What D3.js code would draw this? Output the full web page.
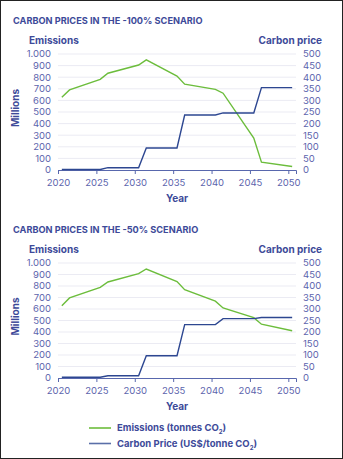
<!DOCTYPE html>
<html><head>
<meta charset="utf-8">
<script src="https://d3js.org/d3.v7.min.js"></script>
<style>
  body { margin: 0; background: #fff; }
  svg text { font-family: Inter, "Noto Sans", sans-serif; }
  .tittle { font-size: 9.2px; font-weight: 700; fill: #3d4a99; }
  .axis-name { font-size: 10px; font-weight: 700; fill: #3d4a99; }
  .tick-lab { font-size: 9.5px; fill: #5c64ad; }
  .legend-text { font-size: 9.5px; font-weight: 700; fill: #3d4a99; }
</style>
</head>
<body>
<svg width="343" height="459"></svg>
<script>
// years where the lines change direction
var years = [2020, 2021, 2025, 2026, 2030, 2031, 2035, 2036, 2040, 2041, 2045, 2046, 2050];

// -100% scenario
var emissions100 = [627, 690, 782, 834, 905, 950, 810, 740, 695, 662, 275, 68, 30];
var price100     = [2, 2, 2, 10, 10, 95, 95, 237, 237, 246, 246, 355, 355];

// -50% scenario
var emissions50 = [629, 696, 788, 835, 907, 948, 838, 768, 668, 609, 525, 468, 411];
var price50     = [3, 3, 3, 10, 10, 97, 97, 232, 232, 258, 258, 263, 263];

var emTicks = [0, 100, 200, 300, 400, 500, 600, 700, 800, 900, 1000];
var prTicks = [0, 50, 100, 150, 200, 250, 300, 350, 400, 450, 500];
var yearTicks = [2020, 2025, 2030, 2035, 2040, 2045, 2050];

const svg = d3.select("svg");
var GREEN = "#6cbd3c", BLUE = "#2d4791";

svg.append("rect").attr("x", 0.5).attr("y", 0.5).attr("width", 342).attr("height", 458)
  .attr("fill", "none").attr("stroke", "#222").attr("stroke-width", 1);

function fmt(v) { return v >= 1000 ? "1.000" : String(v); }

function drawChart(title, top, bottom, emissions, price) {
  var left = 58, right = 296;
  // points sit in the middle of each year slot, ticks on the slot edges
  var x = d3.scaleLinear().domain([2019.5, 2050.5]).range([left, right]);
  var xTick = x.copy().domain([2020, 2051]);
  var yE = d3.scaleLinear().domain([0, 1000]).range([bottom, top]);
  var yP = d3.scaleLinear().domain([0, 500]).range([bottom, top]);

  var g = svg.append("g");

  g.append("text").attr("class", "tittle").attr("x", 13).attr("y", top - 30).text(title);
  g.append("text").attr("class", "axis-name").attr("x", 29).attr("y", top - 10).text("Emissions");
  g.append("text").attr("class", "axis-name").attr("x", 322).attr("y", top - 10)
    .attr("text-anchor", "end").text("Carbon price");

  g.selectAll(".grid").data(emTicks.slice(1)).enter().append("line")
    .attr("x1", left).attr("x2", right)
    .attr("y1", function(d) { return yE(d); }).attr("y2", function(d) { return yE(d); })
    .attr("stroke", "#ebebf3").attr("stroke-width", 1);

  g.selectAll(".ly").data(emTicks).enter().append("text")
    .attr("class", "tick-lab").attr("x", 51).attr("text-anchor", "end")
    .attr("y", function(d) { return yE(d); }).attr("dy", "0.35em")
    .text(fmt);

  g.selectAll(".ry").data(prTicks).enter().append("text")
    .attr("class", "tick-lab").attr("x", 303)
    .attr("y", function(d) { return yP(d); }).attr("dy", "0.35em")
    .text(function(d) { return d; });

  g.append("text").attr("class", "axis-name")
    .attr("transform", "translate(19," + ((top + bottom) / 2 - 4) + ") rotate(-90)")
    .attr("text-anchor", "middle").text("Millions");

  var xAxis = d3.axisBottom(xTick).tickValues(yearTicks).tickSize(4).tickFormat(d3.format("d"));
  var ax = g.append("g").attr("transform", "translate(0," + bottom + ")").call(xAxis);
  ax.select(".domain").attr("stroke", "#5867ad");
  ax.selectAll(".tick line").attr("stroke", "#5867ad");
  ax.selectAll(".tick text").attr("class", "tick-lab").attr("fill", null)
    .attr("font-family", null).attr("font-size", null).attr("dy", "0.95em");

  g.append("text").attr("class", "axis-name").attr("x", (left + right) / 2)
    .attr("y", bottom + 32).attr("text-anchor", "middle").text("Year");

  var lineE = d3.line().x(function(d, i) { return x(years[i]); }).y(function(d) { return yE(d); });
  var lineP = d3.line().x(function(d, i) { return x(years[i]); }).y(function(d) { return yP(d); });

  g.append("path").datum(emissions).attr("d", lineE)
    .attr("fill", "none").attr("stroke", GREEN).attr("stroke-width", 1.4);
  g.append("path").datum(price).attr("d", lineP)
    .attr("fill", "none").attr("stroke", BLUE).attr("stroke-width", 1.4);
}

drawChart("CARBON PRICES IN THE -100% SCENARIO", 54, 170, emissions100, price100);
drawChart("CARBON PRICES IN THE -50% SCENARIO", 263, 378, emissions50, price50);

// legend
var legend = [
  { color: GREEN, name: "Emissions (tonnes CO", tail: ")" },
  { color: "#5a6fa8", name: "Carbon Price (US$/tonne CO", tail: ")" }
];
var lg = svg.selectAll(".leg").data(legend).enter().append("g")
  .attr("transform", function(d, i) { return "translate(89," + (428 + i * 15.5) + ")"; });
lg.append("line").attr("x1", 0).attr("x2", 22).attr("stroke", function(d) { return d.color; })
  .attr("stroke-width", 1.6);
var lt = lg.append("text").attr("class", "legend-text").attr("x", 28).attr("dy", "0.35em");
lt.append("tspan").text(function(d) { return d.name; });
lt.append("tspan").attr("font-size", "6px").attr("dy", "3").text("2");
lt.append("tspan").attr("dy", "-3").text(function(d) { return d.tail; });
</script>
</body></html>
